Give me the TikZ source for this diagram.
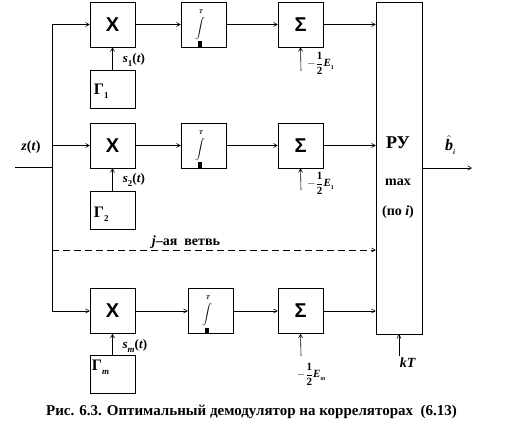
\documentclass[tikz,border=0pt]{standalone}
\usepackage{fontspec}
\setmainfont{Liberation Serif}
\newfontfamily\sansf{Liberation Sans}
\usetikzlibrary{arrows.meta}
\newcommand{\sbx}[1]{\raisebox{-0.25em}{\fontsize{9}{9}\selectfont #1}}
\newcommand{\half}{$-\displaystyle\frac{\mathbf{1}}{\mathbf{2}}$}
\begin{document}
\begin{tikzpicture}[x=1pt,y=-1pt,
  blk/.style={draw, line width=0.6pt, minimum width=45pt, minimum height=45pt, inner sep=0pt},
  gen/.style={draw, line width=0.6pt, minimum width=45pt, minimum height=38pt, inner sep=0pt},
  arr/.style={-{Straight Barb[length=3.5pt,width=4pt]}, line width=0.6pt},
  ln/.style={line width=0.6pt},
  mult/.style={font=\sansf\bfseries\fontsize{20}{20}\selectfont},
  sumt/.style={font=\sansf\bfseries\fontsize{20}{20}\selectfont},
  lbl/.style={font=\bfseries\fontsize{13}{13}\selectfont, inner sep=0pt},
  glbl/.style={font=\bfseries\fontsize{16}{16}\selectfont, inner sep=0pt, anchor=west},
  elbl/.style={font=\bfseries\fontsize{11}{11}\selectfont, inner sep=0pt}]
\useasboundingbox (0,0) rectangle (512,439);
% row 1
\node[blk,mult] (X1) at (112.5,24.5) {X};
\node[blk] (I1) at (203.5,24.5) {};
\node[blk,sumt] (S1) at (300.5,24.5) {Σ};
\node[gen] (G1) at (112.5,89) {};
% row 2
\node[blk,mult] (X2) at (112.5,145.5) {X};
\node[blk] (I2) at (203.5,145.5) {};
\node[blk,sumt] (S2) at (300.5,145.5) {Σ};
\node[gen] (G2) at (112.5,210) {};
% row m
\node[blk,mult] (X3) at (112.5,311) {X};
\node[blk] (I3) at (210.5,311) {};
\node[blk,sumt] (S3) at (300.5,311) {Σ};
\node[gen] (G3) at (112.5,374) {};
% decision device
\node[draw, line width=0.6pt, minimum width=46pt, minimum height=332pt, inner sep=0pt] (RU) at (399,168) {};
\node[font=\bfseries\fontsize{18}{18}\selectfont, inner sep=0pt] (RUt) at (398,143) {РУ};
\node[lbl, font=\bfseries\fontsize{14}{14}\selectfont] (RUmax) at (398,182) {max};
\node[lbl, font=\bfseries\fontsize{14}{14}\selectfont] (RUpo) at (398,212) {(по \textit{i})};
% integrator symbols
\foreach \n in {I1,I2,I3}{
  \node[inner sep=0pt, font=\fontsize{14}{14}\selectfont] (\n s) at ([xshift=-3.5pt,yshift=-4pt]\n.center) {$\displaystyle\int$};
  \node[inner sep=0pt, font=\bfseries\fontsize{6}{6}\selectfont] (\n T) at ([xshift=-2.5pt,yshift=13pt]\n.center) {\textit{T}};
  \fill ([xshift=-5.5pt]\n.south) rectangle ([xshift=-1.5pt,yshift=6pt]\n.south);
}
% generator labels
\node[glbl] (G1l) at ([xshift=4pt,yshift=-2pt]G1.west) {Г\sbx{1}};
\node[glbl] (G2l) at ([xshift=4pt,yshift=-4pt]G2.west) {Г\sbx{2}};
\node[glbl] (G3l) at ([xshift=2pt,yshift=7pt]G3.west) {Г\sbx{\textit{m}}};
% bus
\coordinate (bt) at (52,24.5);
\coordinate (b2) at (52,145.5);
\coordinate (bj) at (52,250);
\coordinate (bin) at (52,167);
\coordinate (zin) at (15,167);
\draw[ln] (zin) -- (bin);
\draw[arr] (bt) -- (X1.west);
\draw[arr] (bt) |- (X3.west);
\draw[arr] (b2) -- (X2.west);
\draw[arr,dashed,dash pattern=on 7pt off 4pt] (bj) -- (bj -| RU.west);
\node[lbl, font=\bfseries\fontsize{14}{14}\selectfont] (zt) at (31,147) {\textit{z}(\textit{t})};
\node[lbl, font=\bfseries\fontsize{14}{14}\selectfont] (jb) at (186,242) {\textit{j}–ая\ \ ветвь};
% chains
\foreach \r in {1,2,3}{
  \draw[arr] (X\r) -- (I\r);
  \draw[arr] (I\r) -- (S\r);
  \draw[arr] (S\r.east) -- (S\r.east -| RU.west);
  \draw[arr] (G\r) -- (X\r);
}
% s labels
\node[lbl] (s1) at (134,60) {\textit{s}\sbx{1}(\textit{t})};
\node[lbl] (s2) at (134,180) {\textit{s}\sbx{2}(\textit{t})};
\node[lbl] (s3) at (135,346) {\textit{s}\sbx{\textit{m}}(\textit{t})};
% energy inputs
\coordinate (e1) at (301,71);
\coordinate (e2) at (301,190);
\coordinate (e3) at (301,356);
\draw[arr] (e1) -- (S1.south);
\draw[arr] (e2) -- (S2.south);
\draw[arr] (e3) -- (S3.south);
\node[elbl, anchor=west] (E1) at (307,63) {\half\textit{E}\sbx{\fontsize{6}{6}\selectfont 1}};
\node[elbl, anchor=west] (E2) at (307,183) {\half\textit{E}\sbx{\fontsize{6}{6}\selectfont 1}};
\node[elbl] (E3) at (311,374) {\half\textit{E}\sbx{\fontsize{6}{6}\selectfont\textit{m}}};
% clock
\coordinate (kc) at (399,356);
\draw[arr] (kc) -- (kc |- RU.south);
\node[lbl, font=\bfseries\fontsize{14}{14}\selectfont] (kT) at (408,363) {\textit{kT}};
% output
\coordinate (out) at (472,168);
\draw[arr] (RU.east |- out) -- (out);
\node[font=\bfseries\fontsize{16}{16}\selectfont, inner sep=0pt] (bh) at (450,145) {$\hat{\textit{\bfseries b}}$\sbx{\fontsize{7}{7}\selectfont\textit{i}}};
% caption
\node[font=\bfseries\fontsize{15}{17}\selectfont, inner sep=0pt] (cap) at (251.5,412) {Рис. 6.3. Оптимальный демодулятор на корреляторах\ \ (6.13)};
\end{tikzpicture}
\end{document}
